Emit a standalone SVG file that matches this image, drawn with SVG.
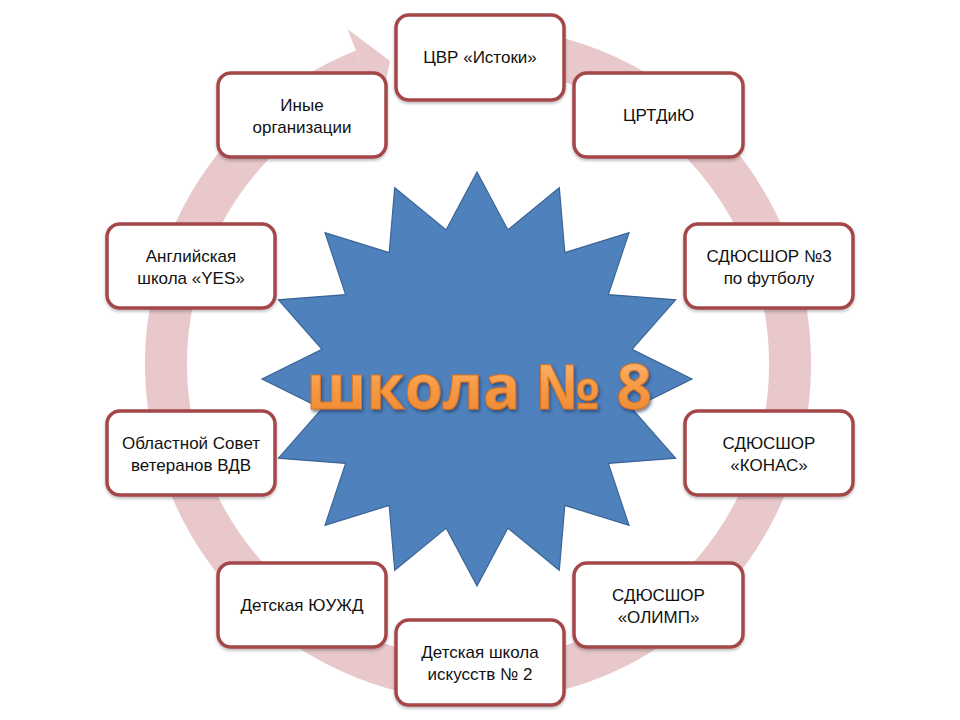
<svg xmlns="http://www.w3.org/2000/svg" width="960" height="720" viewBox="0 0 960 720">
  <style>
    .box { fill: #ffffff; stroke: #a3474a; stroke-width: 3.5; filter: url(#bsh); }
    .lbl { font-family: "Liberation Sans", Arial, sans-serif; font-size: 17px; fill: #111111; text-anchor: middle; }
    .title { font-family: "Open Sans", "Liberation Sans", sans-serif; font-weight: bold; font-size: 62px; text-anchor: middle; fill: url(#og); stroke: #d9731f; stroke-width: 1; filter: url(#tsh); }
  </style>
  <defs>
    <linearGradient id="og" x1="0" y1="0" x2="0" y2="1">
      <stop offset="0" stop-color="#fcc791"/>
      <stop offset="0.5" stop-color="#f79b46"/>
      <stop offset="1" stop-color="#e9842c"/>
    </linearGradient>
    <filter id="tsh" x="-10%" y="-20%" width="120%" height="150%">
      <feDropShadow dx="1.5" dy="2.5" stdDeviation="1.5" flood-color="#1c3555" flood-opacity="0.6"/>
    </filter>
    <filter id="bsh" x="-10%" y="-10%" width="120%" height="130%">
      <feDropShadow dx="0" dy="2" stdDeviation="1.5" flood-color="#000000" flood-opacity="0.25"/>
    </filter>
  </defs>

  <g id="connectors">
    <path d="M 505.2 49.2 A 312 316 0 1 1 363.7 70.0" fill="none" stroke="#e8c8ca" stroke-width="42"/>
    <polygon points="347.5,29.1 390,61 379.8,110.9" fill="#e8c8ca"/>
  </g>

  <g id="center">
    <polygon fill="#4f81bd" stroke="#3a6496" stroke-width="1.2" points="477,172 507.8,229.9 559.3,187.8 564.8,252.6 629,232.6 608.4,294.6 675.6,299.8 632,349.3 692,379 632,408.7 675.6,458.2 608.4,463.4 629,525.4 564.8,505.4 559.3,570.2 507.8,528.1 477,586 446.2,528.1 394.7,570.2 389.2,505.4 325,525.4 345.6,463.4 278.4,458.2 322,408.7 262,379 322,349.3 278.4,299.8 345.6,294.6 325,232.6 389.2,252.6 394.7,187.8 446.2,229.9"/>
    <text class="title" x="479" y="409">школа № 8</text>
  </g>

  <g id="n1"><rect class="box" x="396" y="15" width="168" height="85" rx="13"/><text class="lbl" x="480" y="63">ЦВР «Истоки»</text></g>
  <g id="n2"><rect class="box" x="574" y="73" width="169" height="84" rx="13"/><text class="lbl" x="658.5" y="121">ЦРТДиЮ</text></g>
  <g id="n3"><rect class="box" x="685" y="224" width="168" height="84" rx="13"/><text class="lbl" x="769" y="262">СДЮСШОР №3</text><text class="lbl" x="769" y="284">по футболу</text></g>
  <g id="n4"><rect class="box" x="685" y="411" width="168" height="84" rx="13"/><text class="lbl" x="769" y="449">СДЮСШОР</text><text class="lbl" x="769" y="471">«КОНАС»</text></g>
  <g id="n5"><rect class="box" x="574" y="563" width="169" height="84" rx="13"/><text class="lbl" x="658.5" y="601">СДЮСШОР</text><text class="lbl" x="658.5" y="623">«ОЛИМП»</text></g>
  <g id="n6"><rect class="box" x="396" y="620" width="168" height="85" rx="13"/><text class="lbl" x="480" y="658">Детская школа</text><text class="lbl" x="480" y="680">искусств № 2</text></g>
  <g id="n7"><rect class="box" x="218" y="563" width="168" height="84" rx="13"/><text class="lbl" x="302" y="611">Детская ЮУЖД</text></g>
  <g id="n8"><rect class="box" x="107" y="411" width="168" height="84" rx="13"/><text class="lbl" x="191" y="449">Областной Совет</text><text class="lbl" x="191" y="471">ветеранов ВДВ</text></g>
  <g id="n9"><rect class="box" x="107" y="224" width="168" height="84" rx="13"/><text class="lbl" x="191" y="262">Английская</text><text class="lbl" x="191" y="284">школа «YES»</text></g>
  <g id="n10"><rect class="box" x="218" y="73" width="168" height="84" rx="13"/><text class="lbl" x="302" y="111">Иные</text><text class="lbl" x="302" y="133">организации</text></g>
</svg>
